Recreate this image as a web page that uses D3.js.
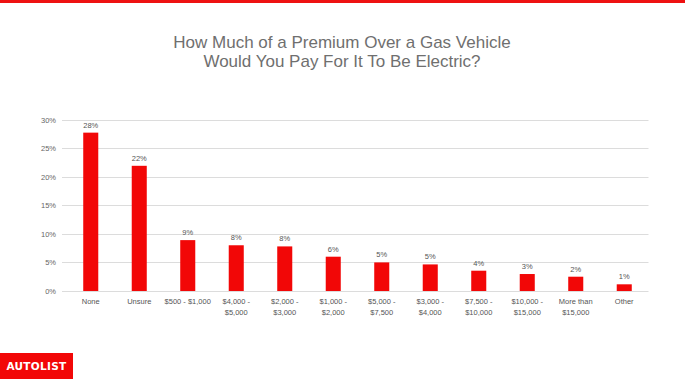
<!DOCTYPE html>
<html><head><meta charset="utf-8">
<script src="https://cdn.jsdelivr.net/npm/d3@7/dist/d3.min.js"></script>
<style>body{margin:0;background:#fff;}svg{display:block;}</style>
</head><body>
<svg id="c" width="685" height="385"></svg>
<script>
const categories = [["None"],["Unsure"],["$500 - $1,000"],["$4,000 -","$5,000"],["$2,000 -","$3,000"],["$1,000 -","$2,000"],["$5,000 -","$7,500"],["$3,000 -","$4,000"],["$7,500 -","$10,000"],["$10,000 -","$15,000"],["More than","$15,000"],["Other"]];
const values = [27.7, 21.9, 8.9, 8.0, 7.8, 6.0, 5.0, 4.65, 3.55, 2.97, 2.5, 1.17];
const valueLabels = ["28%","22%","9%","8%","8%","6%","5%","5%","4%","3%","2%","1%"];
const yTicks = [0,5,10,15,20,25,30];
const titleLines = ["How Much of a Premium Over a Gas Vehicle","Would You Pay For It To Be Electric?"];

const svg = d3.select("#c");
const font = "'Liberation Sans', Arial, sans-serif";
svg.append("rect").attr("x",0).attr("y",0).attr("width",685).attr("height",3).attr("fill","#ee1111");

svg.append("g").selectAll("text").data(titleLines).join("text")
  .attr("x",342).attr("y",(d,i)=>48+i*19).attr("text-anchor","middle")
  .attr("font-family",font).attr("font-size",17).attr("fill","#6f6f6f").text(d=>d);

const x = d3.scaleBand().domain(d3.range(categories.length)).range([66.5,648.5]).paddingInner(0.69).paddingOuter(0.345);
const y = d3.scaleLinear().domain([0,30]).range([291,119.5]);

const g = svg.append("g");
g.selectAll("line.grid").data(yTicks).join("line").attr("class","grid")
  .attr("x1",62).attr("x2",648.5).attr("y1",d=>Math.round(y(d))+0.5).attr("y2",d=>Math.round(y(d))+0.5)
  .attr("stroke","#dcdcdc").attr("stroke-width",1);
g.selectAll("text.yt").data(yTicks).join("text").attr("class","yt")
  .attr("x",56).attr("y",d=>y(d)+3).attr("text-anchor","end")
  .attr("font-family",font).attr("font-size",7.5).attr("fill","#666").text(d=>d+"%");

g.selectAll("rect.bar").data(values).join("rect").attr("class","bar")
  .attr("x",(d,i)=>x(i)).attr("width",x.bandwidth())
  .attr("y",d=>y(d)).attr("height",d=>y(0)-y(d)).attr("fill","#f20707");

g.selectAll("text.vl").data(values).join("text").attr("class","vl")
  .attr("x",(d,i)=>x(i)+x.bandwidth()/2).attr("y",d=>y(d)-5).attr("text-anchor","middle")
  .attr("font-family",font).attr("font-size",7.5).attr("fill","#555").text((d,i)=>valueLabels[i]);

const cl = g.selectAll("text.cl").data(categories).join("text").attr("class","cl")
  .attr("x",(d,i)=>x(i)+x.bandwidth()/2).attr("y",304).attr("text-anchor","middle")
  .attr("font-family",font).attr("font-size",7.5).attr("fill","#555");
cl.selectAll("tspan").data(d=>d).join("tspan")
  .attr("x",function(){return this.parentNode.getAttribute("x");})
  .attr("dy",(d,i)=>i?10.5:0).text(d=>d);

svg.append("rect").attr("x",0).attr("y",353).attr("width",73).attr("height",26).attr("fill","#f20707");
svg.append("text").attr("x",36.5).attr("y",370).attr("text-anchor","middle")
  .attr("font-family","'DejaVu Sans', sans-serif").attr("font-weight","bold").attr("font-size",10.5)
  .attr("fill","#fff").attr("letter-spacing",0.3).text("AUTOLIST");
</script>
</body></html>
